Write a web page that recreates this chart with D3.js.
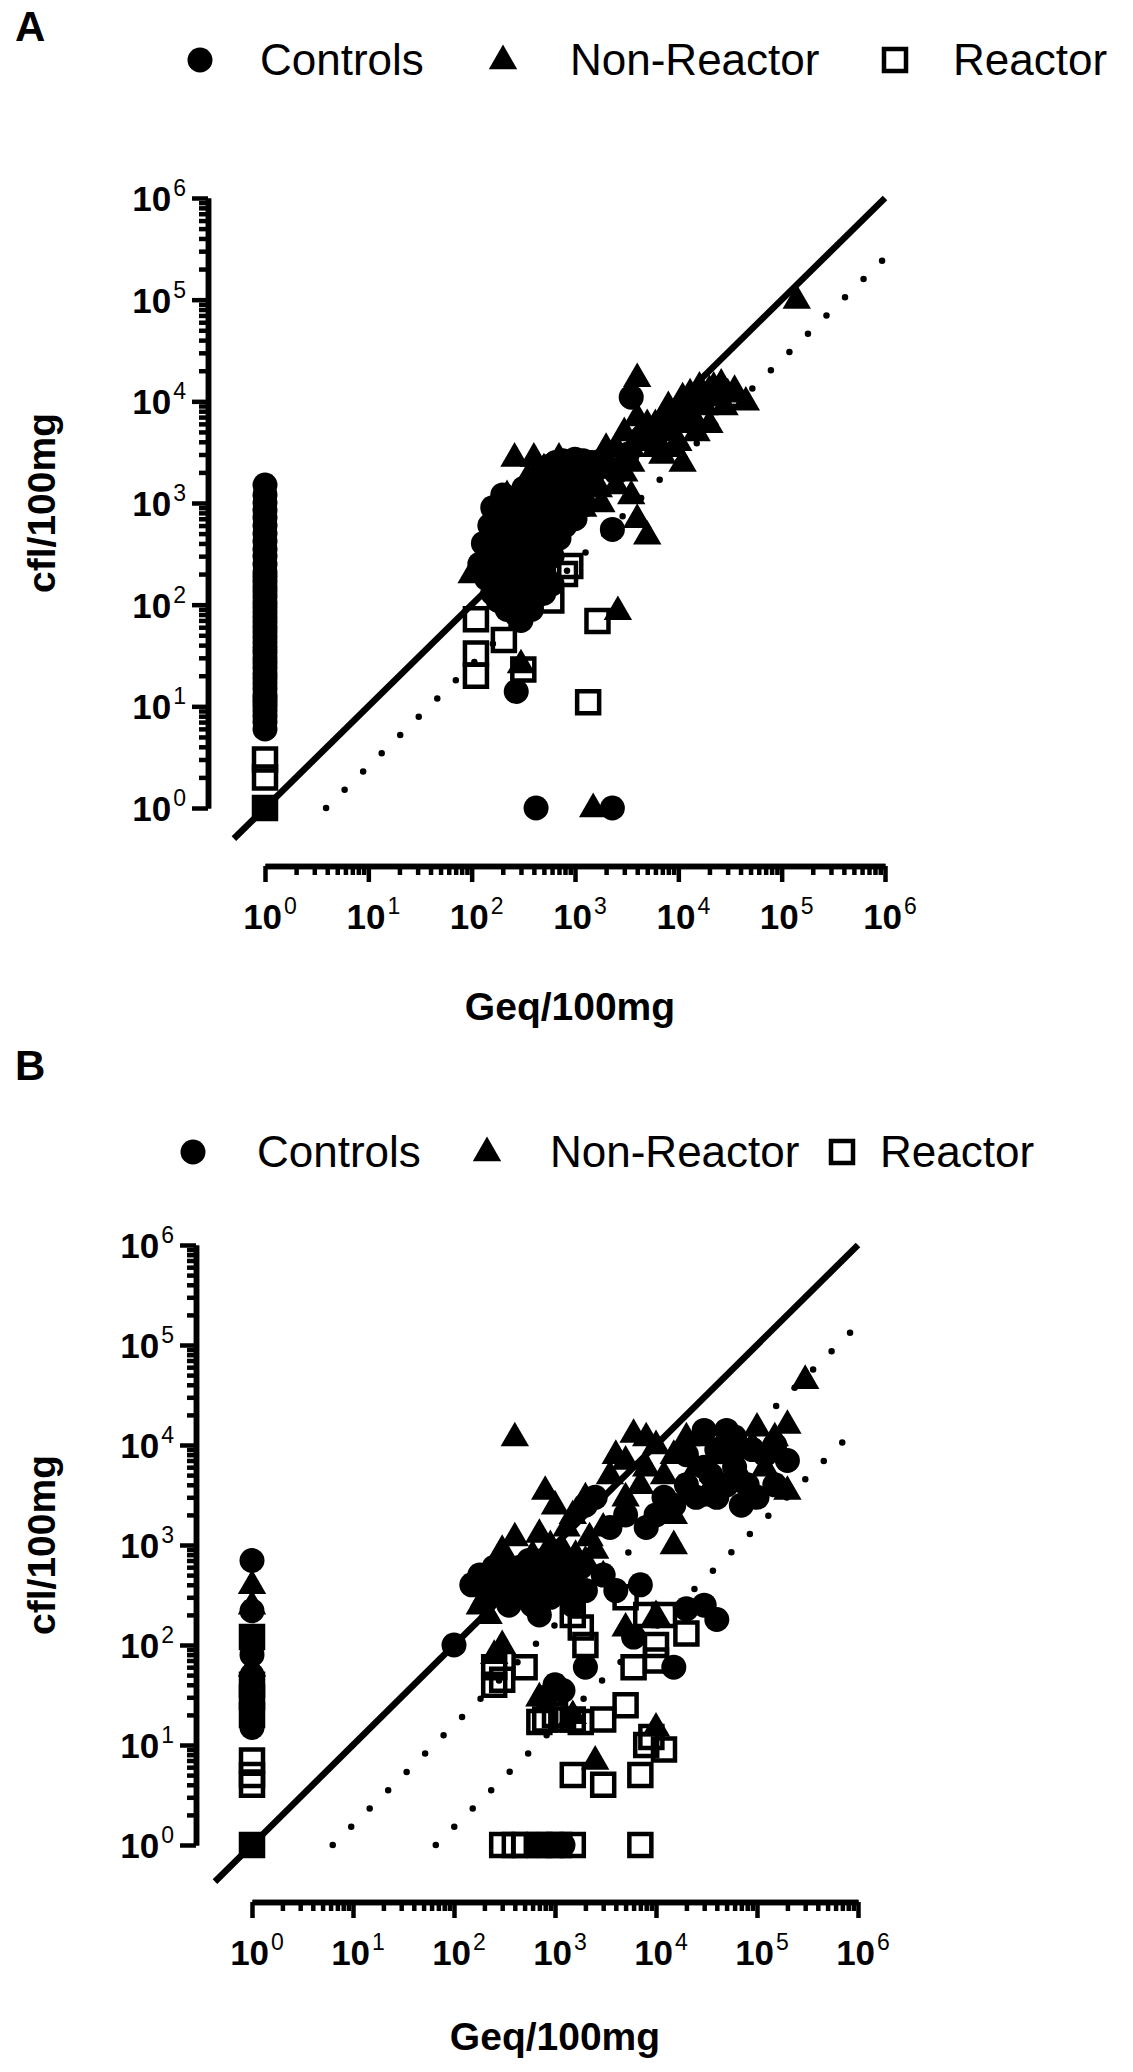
<!DOCTYPE html>
<html><head><meta charset="utf-8">
<script src="https://cdn.jsdelivr.net/npm/d3@7"></script>
<style>body{margin:0;background:#fff}svg{display:block}</style>
</head><body>
<svg id="chart" width="1133" height="2072"></svg>
<script>
// ---------- data ----------
const seriesNames = ["Controls", "Non-Reactor", "Reactor"];
const decadeTicks = [1, 10, 100, 1e3, 1e4, 1e5, 1e6];
const tickExponents = ["0", "1", "2", "3", "4", "5", "6"];
const xTitle = "Geq/100mg";
const yTitle = "cfl/100mg";
const panelLetters = ["A", "B"];

// Panel A (Geq, cfl)
const aControls = [
  [1,1],[1,6],[1,7],[1,8],[1,9],[1,10],[1,11],[1,12],[1,13],[1,15],[1,17],[1,19],[1,21],[1,24],[1,27],[1,30],
  [1,34],[1,38],[1,43],[1,48],[1,54],[1,60],[1,68],[1,76],[1,85],[1,95],[1,105],[1,120],[1,135],[1,150],[1,170],
  [1,190],[1,210],[1,250],[1,300],[1,350],[1,420],[1,500],[1,600],[1,720],[1,850],[1,1000],[1,1200],[1,1500],
  [120,250],[130,400],[140,180],[150,600],[150,300],[160,130],[160,900],[170,220],[180,450],[180,110],[190,700],
  [190,330],[200,160],[200,1200],[210,260],[210,550],[220,90],[230,380],[230,800],[240,140],[240,200],[250,500],
  [250,1000],[260,300],[260,650],[270,120],[270,80],[280,420],[290,200],[290,900],[300,70],[300,550],[310,300],
  [320,1400],[330,160],[340,700],[350,400],[360,240],[380,1100],[390,550],[400,320],[420,1700],[440,800],[460,1300],
  [480,2000],[520,1500],[560,2300],[600,1800],[650,2500],[700,2200],[760,2600],[820,2000],[900,2400],[1000,2700],
  [1100,2200],[1200,2600],[1300,2300],[1450,2500],[1600,2200],[1800,2600],[2000,2300],[2300,550],[2500,2000],
  [3200,3000],[3500,11000],[4500,4500],[270,14],[420,1],[2300,1],
  [350,180],[400,150],[450,250],[500,200],[550,400],[600,300],[650,700],[700,450],[800,600],[900,900],[420,120],
  [500,130],[380,90],[600,160],[1000,700],[1200,1000],[700,1000]
];
const aNonReactor = [
  [100,200],[260,2800],[200,600],[220,1200],[250,900],[300,1300],[350,1800],[400,2800],[450,1000],[500,2200],
  [600,1500],[700,2800],[800,1100],[900,1600],[1000,900],[1200,1400],[1500,1800],[1800,1000],[2000,2200],[2500,1500],
  [3000,2800],[3500,1200],[4000,700],[5000,480],[3000,5000],[4000,7000],[4000,17000],[5000,4000],[6000,6000],
  [7000,3000],[8000,5000],[9000,3500],[10000,8000],[12000,6000],[13000,12000],[16000,14000],[18000,9000],
  [20000,13000],[23000,11000],[26000,15000],[30000,12000],[20000,6000],[15000,5000],[45000,10000],[10000,4000],
  [11000,2500],[140000,100000],[6000,3500],[2000,3500],[2600,87],[300,26],[1500,1],
  [300,600],[350,1000],[400,700],[500,1200],[600,900],[700,1600],[800,700],[1000,1300],[1200,900],[1400,2000],
  [1700,1400],[2500,3500],[3000,2000],[3500,2500],[3500,3500],[5000,6000],[7000,7000],[8000,9000],[11000,11000],
  [12000,9000],[14000,7000],[17000,11000],[22000,14000],[28000,9000],[35000,13000],[6000,4500],[9000,6000]
];
const aReactor = [
  [1,1],[1,2],[1,3],[110,72],[110,33],[110,20],[205,45],[316,23],[590,110],[800,200],[900,240],[1650,69],[1340,11]
];

// Panel B (Geq, cfl)
const bControls = [
  [1,1],[1,15],[1,18],[1,22],[1,25],[1,30],[1,50],[1,80],[1,120],[1,220],[1,700],
  [100,100],[180,500],[220,300],[250,600],[300,500],[350,250],[400,400],[450,600],[500,300],[550,700],[600,450],
  [700,200],[800,500],[900,300],[1000,650],[1100,350],[1300,500],[1500,250],[1800,600],[2000,2500],[2500,3000],
  [3000,500],[3500,1500],[4000,350],[5000,2000],[6000,120],[7000,400],[8000,1500],[10000,2000],[12000,3000],
  [15000,2500],[20000,4000],[25000,3000],[30000,14000],[35000,5000],[40000,3000],[50000,14000],[60000,6000],
  [80000,4000],[100000,3000],[120000,8000],[150000,10000],[200000,7000],[800,30],[1000,40],[1200,35],[2000,60],
  [15000,60],[20000,230],[30000,250],[40000,180],[700,1],[800,1],[1000,1],[1200,1],
  [150,400],[250,350],[350,600],[450,350],[600,250],[750,700],[900,450],[1200,600],[1500,400],[2000,350],
  [20000,8000],[40000,9000],[60000,12000],[90000,9000],[150000,4000],[30000,6000],[50000,4000],[70000,2500]
];
const bNonReactor = [
  [1,400],[1,250],[1,60],
  [400,12000],[200,300],[220,200],[250,400],[300,900],[350,350],[400,1200],[500,600],[600,800],[700,1300],
  [800,3500],[900,600],[1000,2500],[1200,900],[1500,2000],[1800,400],[2000,3000],[2500,900],[3000,1500],
  [3500,5000],[4000,8000],[5000,3000],[6000,13000],[7000,4000],[8000,6000],[10000,10000],[12000,5000],
  [15000,2000],[20000,12000],[25000,6000],[30000,3000],[40000,8000],[50000,12000],[70000,5000],[100000,15000],
  [150000,12000],[200000,16000],[200000,3500],[300000,45000],[10000,15],[2500,7],[1500,20],[700,30],[2000,700],
  [3000,500],[5000,150],[10000,200],[300,100],[250,80],[15000,1000],
  [180,250],[300,300],[450,500],[650,400],[900,1000],[1100,500],[1300,1500],[1600,800],[2200,1200],
  [30000,12000],[60000,9000],[90000,10000],[120000,6000],[40000,4000],[15000,8000],[8000,12000],[5000,7000]
];
const bReactor = [
  [1,1],[1,4],[1,5],[1,7],[1,20],[1,30],[1,40],[1,120],
  [250,40],[250,60],[300,45],[500,60],[700,17],[800,18],[1000,20],[1200,18],[1500,18],[1800,17],[1500,5],
  [3000,4],[3000,18],[5000,25],[6000,60],[7000,5],[8000,10],[9000,12],[10000,100],[12000,200],[12000,9],
  [20000,130],[1200,400],[1500,200],[1800,150],[2000,100],[5000,300],[8000,200],[10000,70],
  [300,1],[400,1],[500,1],[700,1],[900,1],[1100,1],[1500,1],[7000,1]
];

// Reference lines: [log10 offset from y = x, start x, end x]
const aLines = { solid: [0, 0.5, 1e6], dotted: [[-0.59, 3.9, 1.2e6]] };
const bLines = { solid: [0, 0.43, 1e6], dotted: [[-0.8, 6.3, 1.05e6], [-1.82, 66, 1.05e6]] };

// ---------- layout ----------
const FONT = "'Liberation Sans', Arial, Helvetica, sans-serif";
const panels = [
  { letter: panelLetters[0], letterY: 41, legendY: 60, legendX: [200, 260, 503, 570, 895, 953],
    yAxisX: 208, xAxisY: 866, xr: [265, 885], yr: [808, 198], xTitleX: 570, xTitleY: 1020, yTitleY: 503,
    data: [aControls, aNonReactor, aReactor], lines: aLines },
  { letter: panelLetters[1], letterY: 1080, legendY: 1152, legendX: [193, 257, 487, 550, 842, 880],
    yAxisX: 196, xAxisY: 1902, xr: [252, 858], yr: [1845, 1245], xTitleX: 555, xTitleY: 2050, yTitleY: 1545,
    data: [bControls, bNonReactor, bReactor], lines: bLines }
];

const svg = d3.select("#chart");
svg.append("rect").attr("width", 1133).attr("height", 2072).attr("fill", "#fff");

const symCircle = d3.symbol().type(d3.symbolCircle).size(Math.PI * 12.5 * 12.5);
const symTri = d3.symbol().type(d3.symbolTriangle).size(350);
const symSquare = d3.symbol().type(d3.symbolSquare).size(22 * 22);

function drawMarker(g, k, x, y) {
  if (k === 0) g.append("path").attr("d", symCircle()).attr("transform", `translate(${x},${y})`).attr("fill", "#000");
  else if (k === 1) g.append("path").attr("d", symTri()).attr("transform", `translate(${x},${y + 1})`).attr("fill", "#000");
  else g.append("path").attr("d", symSquare()).attr("transform", `translate(${x},${y})`)
        .attr("fill", "none").attr("stroke", "#000").attr("stroke-width", 4.5);
}

const minorTicks = [];
for (let e = 0; e < 6; e++) for (let m = 2; m <= 9; m++) minorTicks.push(m * Math.pow(10, e));

panels.forEach(p => {
  const g = svg.append("g");
  const x = d3.scaleLog().domain([1, 1e6]).range(p.xr);
  const y = d3.scaleLog().domain([1, 1e6]).range(p.yr);

  // panel letter
  g.append("text").attr("x", 15).attr("y", p.letterY).attr("font-family", FONT)
    .attr("font-weight", "bold").attr("font-size", 42).text(p.letter);

  // legend
  const lg = g.append("g");
  seriesNames.forEach((name, k) => {
    drawMarker(lg, k, p.legendX[k * 2], p.legendY);
    lg.append("text").attr("x", p.legendX[k * 2 + 1]).attr("y", p.legendY + 15)
      .attr("font-family", FONT).attr("font-size", 44).text(name);
  });

  // reference lines
  const line = d3.line().x(d => x(d[0])).y(d => y(d[1]));
  const s = p.lines.solid;
  g.append("path").attr("d", line([[s[1], s[1] * Math.pow(10, s[0])], [s[2], s[2] * Math.pow(10, s[0])]]))
    .attr("stroke", "#000").attr("stroke-width", 6.5).attr("fill", "none");
  p.lines.dotted.forEach(dl => {
    const f = Math.pow(10, dl[0]);
    g.append("path").attr("d", line([[dl[1], dl[1] * f], [dl[2], dl[2] * f]]))
      .attr("stroke", "#000").attr("stroke-width", 6.5).attr("stroke-linecap", "round")
      .attr("stroke-dasharray", "0 26").attr("fill", "none");
  });

  // points
  const pg = g.append("g");
  p.data.forEach((arr, k) => arr.forEach(d => drawMarker(pg, k, x(d[0]), y(d[1]))));

  // axes
  const yAxMajor = d3.axisLeft(y).tickValues(decadeTicks).tickSize(16).tickSizeOuter(0).tickFormat(() => "");
  const yAxMinor = d3.axisLeft(y).tickValues(minorTicks).tickSize(9).tickSizeOuter(0).tickFormat(() => "");
  const xAxMajor = d3.axisBottom(x).tickValues(decadeTicks).tickSize(16).tickSizeOuter(0).tickFormat(() => "");
  const xAxMinor = d3.axisBottom(x).tickValues(minorTicks).tickSize(9).tickSizeOuter(0).tickFormat(() => "");

  const ya = g.append("g").attr("transform", `translate(${p.yAxisX},0)`);
  ya.append("g").call(yAxMinor);
  ya.append("g").call(yAxMajor);
  const xa = g.append("g").attr("transform", `translate(0,${p.xAxisY})`);
  xa.append("g").call(xAxMinor);
  xa.append("g").call(xAxMajor);
  g.selectAll(".domain").attr("stroke", "#000").attr("stroke-width", 5.5);
  g.selectAll(".tick line").attr("stroke", "#000").attr("stroke-width", 4.5);

  // tick labels
  decadeTicks.forEach((v, i) => {
    const ty = ya.append("text").attr("x", -22).attr("y", y(v) + 13).attr("text-anchor", "end").attr("font-family", FONT);
    ty.append("tspan").attr("font-weight", "bold").attr("font-size", 35).text("10");
    ty.append("tspan").attr("font-size", 23).attr("dx", 2).attr("dy", -15).text(tickExponents[i]);
    const tx = xa.append("text").attr("x", x(v) + 5).attr("y", 63).attr("text-anchor", "middle").attr("font-family", FONT);
    tx.append("tspan").attr("font-weight", "bold").attr("font-size", 35).text("10");
    tx.append("tspan").attr("font-size", 23).attr("dx", 2).attr("dy", -15).text(tickExponents[i]);
  });

  // axis titles
  g.append("text").attr("x", p.xTitleX).attr("y", p.xTitleY).attr("text-anchor", "middle")
    .attr("font-family", FONT).attr("font-weight", "bold").attr("font-size", 39).text(xTitle);
  g.append("text").attr("transform", `translate(55,${p.yTitleY}) rotate(-90)`).attr("text-anchor", "middle")
    .attr("font-family", FONT).attr("font-weight", "bold").attr("font-size", 39).text(yTitle);
});
</script>
</body></html>
